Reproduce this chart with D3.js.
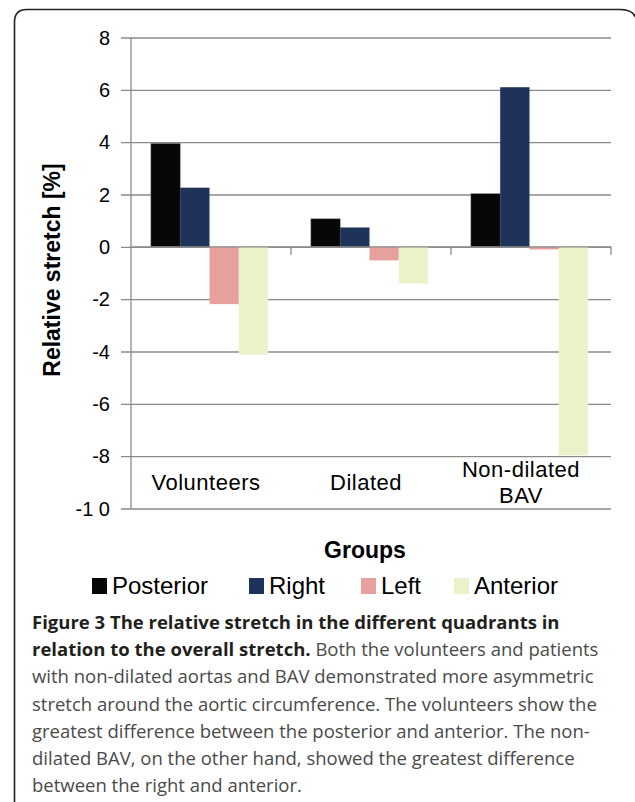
<!DOCTYPE html>
<html><head><meta charset="utf-8">
<script src="https://cdn.jsdelivr.net/npm/d3@7"></script>
<style>body{margin:0;background:#fff}svg{display:block}</style>
</head><body>
<script>
const categories = [["Volunteers"], ["Dilated"], ["Non-dilated", "BAV"]];
const seriesNames = ["Posterior", "Right", "Left", "Anterior"];
const posterior = [3.95, 1.07, 2.03];
const right = [2.26, 0.74, 6.1];
const left = [-2.19, -0.52, -0.1];
const anterior = [-4.12, -1.40, -7.97];
const yTicks = [8, 6, 4, 2, 0, -2, -4, -6, -8, -10];
const colors = ["#070705", "#1f335a", "#e6a19e", "#ebf2c9"];
const captionBold1 = "Figure 3 The relative stretch in the different quadrants in";
const captionBold2 = "relation to the overall stretch.";
const captionLines = [
  " Both the volunteers and patients",
  "with non-dilated aortas and BAV demonstrated more asymmetric",
  "stretch around the aortic circumference. The volunteers show the",
  "greatest difference between the posterior and anterior. The non-",
  "dilated BAV, on the other hand, showed the greatest difference",
  "between the right and anterior."
];

const values = [posterior, right, left, anterior];
const W = 635, H = 802;
const svg = d3.select("body").append("svg").attr("width", W).attr("height", H);

// frame
svg.append("path")
  .attr("d", `M14.5,${H+5} L14.5,22 Q14.5,9.5 27,9.5 L620,9.5 Q633,9.5 636,18`)
  .attr("fill", "none").attr("stroke", "#222").attr("stroke-width", 1.6);

const x0 = 131, x1 = 611;
const y = d3.scaleLinear().domain([-10, 8]).range([508.5, 37.5]);
const xb = d3.scaleBand().domain(d3.range(categories.length)).range([x0, x1]);
const xs = d3.scaleBand().domain(d3.range(seriesNames.length)).range([0, xb.bandwidth()]).paddingInner(0).paddingOuter(0.73);

const font = "'Liberation Sans', Arial, Helvetica, sans-serif";
const grid = "#8a8a8a";

// gridlines + y axis
const yAxis = d3.axisLeft(y).tickValues(yTicks).tickSize(x1 - x0 + 10).tickFormat(d => d === -10 ? "-1 0" : d);
const gy = svg.append("g").attr("transform", `translate(${x1},0)`).call(yAxis);
gy.select(".domain").remove();
gy.selectAll(".tick line").attr("stroke", grid).attr("stroke-width", 1.3);
gy.selectAll(".tick text").attr("x", -(x1 - x0) - 21).attr("font-family", font).attr("font-size", 20).attr("fill", "#000").attr("dy", "0.34em");

svg.append("line").attr("x1", x0).attr("x2", x0).attr("y1", y(8)).attr("y2", y(-10)).attr("stroke", grid).attr("stroke-width", 1.3);

// bars
const g = svg.append("g");
categories.forEach((c, i) => {
  values.forEach((vals, s) => {
    const v = vals[i];
    g.append("rect")
      .attr("x", xb(i) + xs(s) - 1.5)
      .attr("width", xs.bandwidth())
      .attr("y", y(Math.max(0, v)))
      .attr("height", Math.abs(y(v) - y(0)))
      .attr("fill", colors[s])
      .attr("stroke", s === 0 ? "#777" : "none").attr("stroke-width", 0.5);
  });
});

// zero axis with ticks
svg.append("line").attr("x1", x0).attr("x2", x1).attr("y1", y(0)).attr("y2", y(0)).attr("stroke", grid).attr("stroke-width", 1.3);
categories.forEach((c, i) => {
  const xx = xb(i) + xb.bandwidth();
  svg.append("line").attr("x1", xx).attr("x2", xx).attr("y1", y(0)).attr("y2", y(0) + 8).attr("stroke", grid).attr("stroke-width", 1.3);
});

// category labels
categories.forEach((c, i) => {
  const cx = xb(i) + xb.bandwidth() / 2 - 5;
  const t = svg.append("text").attr("text-anchor", "middle").attr("font-family", font).attr("font-size", 22).attr("fill", "#000").attr("letter-spacing", 0.5);
  if (c.length === 1) {
    t.append("tspan").attr("x", cx).attr("y", 490).text(c[0]);
  } else {
    c.forEach((l, k) => t.append("tspan").attr("x", cx - 5).attr("y", 477 + k * 26).text(l));
  }
});

// axis titles
svg.append("text").attr("transform", `translate(60,270) rotate(-90)`).attr("text-anchor", "middle")
  .attr("font-family", font).attr("font-size", 23).attr("font-weight", "bold").text("Relative stretch [%]");
svg.append("text").attr("x", 365).attr("y", 558).attr("text-anchor", "middle")
  .attr("font-family", font).attr("font-size", 23).attr("font-weight", "bold").text("Groups");

// legend
const legX = [92, 249, 361, 454];
seriesNames.forEach((n, s) => {
  svg.append("rect").attr("x", legX[s]).attr("y", 578).attr("width", 15).attr("height", 16).attr("fill", colors[s]);
  svg.append("text").attr("x", legX[s] + 20).attr("y", 594).attr("font-family", font).attr("font-size", 24).text(n);
});

// caption
const cf = "'Open Sans', 'Noto Sans', sans-serif";
const cy0 = 629, lh = 27.2, cfs = 18.5;
svg.append("text").attr("x", 32).attr("y", cy0).attr("font-family", cf).attr("font-size", cfs).attr("font-weight", "bold").attr("fill", "#231f20").text(captionBold1);
const l2 = svg.append("text").attr("x", 32).attr("y", cy0 + lh).attr("font-family", cf).attr("font-size", cfs).attr("fill", "#4a4a4a");
l2.append("tspan").attr("font-weight", "bold").attr("fill", "#231f20").text(captionBold2);
l2.append("tspan").text(captionLines[0]);
captionLines.slice(1).forEach((l, k) => {
  svg.append("text").attr("x", 32).attr("y", cy0 + lh * (k + 2)).attr("font-family", cf).attr("font-size", cfs).attr("fill", "#4a4a4a").text(l);
});
</script>
</body></html>
